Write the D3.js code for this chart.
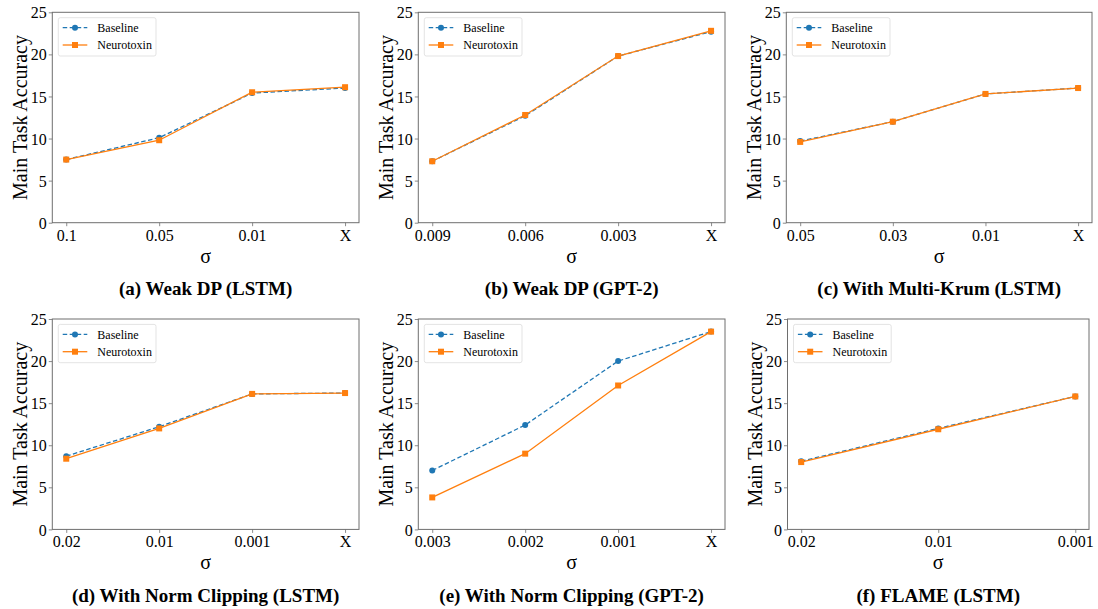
<!DOCTYPE html>
<html>
<head>
<meta charset="utf-8">
<script src="https://cdn.jsdelivr.net/npm/d3@7"></script>
<style>
  body { margin: 0; background: #fff; }
  svg { font-family: "Liberation Serif", "Times New Roman", serif; }
</style>
</head>
<body>
<div id="figure"></div>
<script>
// x tick labels per panel
const ticks_a = ["0.1", "0.05", "0.01", "X"];
const ticks_b = ["0.009", "0.006", "0.003", "X"];
const ticks_c = ["0.05", "0.03", "0.01", "X"];
const ticks_d = ["0.02", "0.01", "0.001", "X"];
const ticks_e = ["0.003", "0.002", "0.001", "X"];
const ticks_f = ["0.02", "0.01", "0.001"];

// main task accuracy
const baseline_a = [7.5, 10.1, 15.4, 16.0];
const neuro_a    = [7.5, 9.8, 15.5, 16.1];
const baseline_b = [7.3, 12.7, 19.8, 22.7];
const neuro_b    = [7.3, 12.8, 19.8, 22.8];
const baseline_c = [9.7, 12.0, 15.3, 16.0];
const neuro_c    = [9.6, 12.0, 15.3, 16.0];
const baseline_d = [8.7, 12.2, 16.1, 16.2];
const neuro_d    = [8.4, 12.0, 16.1, 16.2];
const baseline_e = [7.0, 12.4, 20.0, 23.5];
const neuro_e    = [3.8, 9.0, 17.1, 23.5];
const baseline_f = [8.1, 12.0, 15.8];
const neuro_f    = [8.0, 11.9, 15.8];

const y_ticks = [0, 5, 10, 15, 20, 25];
const titles = ["(a) Weak DP (LSTM)", "(b) Weak DP (GPT-2)", "(c) With Multi-Krum (LSTM)",
                "(d) With Norm Clipping (LSTM)", "(e) With Norm Clipping (GPT-2)", "(f) FLAME (LSTM)"];

const panels = [
  { ticks: ticks_a, base: baseline_a, neuro: neuro_a },
  { ticks: ticks_b, base: baseline_b, neuro: neuro_b },
  { ticks: ticks_c, base: baseline_c, neuro: neuro_c },
  { ticks: ticks_d, base: baseline_d, neuro: neuro_d },
  { ticks: ticks_e, base: baseline_e, neuro: neuro_e },
  { ticks: ticks_f, base: baseline_f, neuro: neuro_f },
];

// frame of each plot area in page pixels
const frames = [
  { x: 52.3,  y: 12.3,  w: 306.7, h: 210.4 },
  { x: 418.3, y: 12.3,  w: 306.7, h: 210.4 },
  { x: 786.3, y: 12.3,  w: 305.7, h: 210.4 },
  { x: 52.3,  y: 319,   w: 306.7, h: 210.4 },
  { x: 418.3, y: 319,   w: 306.7, h: 210.4 },
  { x: 787.5, y: 319,   w: 301.5, h: 210.4 },
];

const blue = "#1f77b4", orange = "#ff7f0e", frame_col = "#6e6e6e";

const svg = d3.select("#figure").append("svg")
              .attr("width", 1098)
              .attr("height", 609);

panels.forEach((p, i) => {
  const f = frames[i];
  const n = p.ticks.length;
  const pad = 0.05 * (n - 1);

  let x_scale = d3.scaleLinear()
                  .domain([-pad, n - 1 + pad])
                  .range([0, f.w]);
  let y_scale = d3.scaleLinear()
                  .domain([0, 25])
                  .range([f.h, 0]);

  let g = svg.append("g")
             .attr("transform", "translate(" + f.x + "," + f.y + ")");

  let x_axis = g.append("g")
     .attr("transform", "translate(0," + f.h + ")")
     .call(d3.axisBottom(x_scale)
             .tickValues(d3.range(n))
             .tickFormat(d => p.ticks[d])
             .tickSizeOuter(0)
             .tickSize(3.5)
             .tickPadding(3));

  let y_axis = g.append("g")
     .call(d3.axisLeft(y_scale)
             .tickValues(y_ticks)
             .tickSizeOuter(0)
             .tickSize(3.5)
             .tickPadding(2));

  [x_axis, y_axis].forEach(a => {
    a.select(".domain").remove();
    a.selectAll("line").attr("stroke", frame_col).attr("stroke-width", 0.8);
    a.selectAll("text").attr("fill", "#000").style("font-size", "16px")
     .style("font-family", "Liberation Serif, serif");
  });
  y_axis.selectAll("text").attr("dy", "0.35em");

  // box around plot area
  g.append("rect")
   .attr("width", f.w).attr("height", f.h)
   .attr("fill", "none")
   .attr("stroke", frame_col)
   .attr("stroke-width", 1);

  let line = d3.line()
               .x((d, k) => x_scale(k))
               .y(d => y_scale(d));

  g.append("path")
   .datum(p.base)
   .attr("fill", "none")
   .attr("stroke", blue)
   .attr("stroke-width", 1.3)
   .attr("stroke-dasharray", "4.5,2.5")
   .attr("d", line);

  g.selectAll(".dot")
   .data(p.base)
   .join("circle")
   .attr("cx", (d, k) => x_scale(k))
   .attr("cy", d => y_scale(d))
   .attr("r", 3)
   .attr("fill", blue);

  g.append("path")
   .datum(p.neuro)
   .attr("fill", "none")
   .attr("stroke", orange)
   .attr("stroke-width", 1.3)
   .attr("d", line);

  g.selectAll(".sq")
   .data(p.neuro)
   .join("rect")
   .attr("x", (d, k) => x_scale(k) - 3)
   .attr("y", d => y_scale(d) - 3)
   .attr("width", 6)
   .attr("height", 6)
   .attr("fill", orange);

  // legend
  let leg = g.append("g").attr("transform", "translate(6,5.4)");
  leg.append("rect")
     .attr("width", 97.7).attr("height", 38.3)
     .attr("rx", 2)
     .attr("fill", "#fff")
     .attr("stroke", "#dcdcdc")
     .attr("stroke-width", 0.8);
  const entries = [
    { label: "Baseline", col: blue, dash: "4.5,2.5", shape: "circle" },
    { label: "Neurotoxin", col: orange, dash: null, shape: "square" },
  ];
  entries.forEach((e, k) => {
    const yy = 10 + k * 17.3;
    leg.append("line")
       .attr("x1", 4.4).attr("x2", 29)
       .attr("y1", yy).attr("y2", yy)
       .attr("stroke", e.col)
       .attr("stroke-width", 1.3)
       .attr("stroke-dasharray", e.dash);
    if (e.shape === "circle") {
      leg.append("circle").attr("cx", 16.7).attr("cy", yy).attr("r", 3).attr("fill", e.col);
    } else {
      leg.append("rect").attr("x", 13.7).attr("y", yy - 3).attr("width", 6).attr("height", 6).attr("fill", e.col);
    }
    leg.append("text")
       .attr("x", 39).attr("y", yy)
       .attr("dy", "0.35em")
       .style("font-size", "12px")
       .text(e.label);
  });

  // axis titles
  g.append("text")
   .attr("transform", "translate(" + (-32.3) + "," + (f.h / 2) + ") rotate(-90)")
   .attr("text-anchor", "middle")
   .attr("dy", "0.35em")
   .style("font-size", "20px")
   .text("Main Task Accuracy");

  g.append("text")
   .attr("x", f.w / 2)
   .attr("y", f.h + 40)
   .attr("text-anchor", "middle")
   .style("font-size", "20px")
   .text("σ");

  g.append("text")
   .attr("x", f.w / 2)
   .attr("y", f.h + 72.3)
   .attr("text-anchor", "middle")
   .style("font-size", "19px")
   .style("font-weight", "bold")
   .text(titles[i]);
});
</script>
</body>
</html>
